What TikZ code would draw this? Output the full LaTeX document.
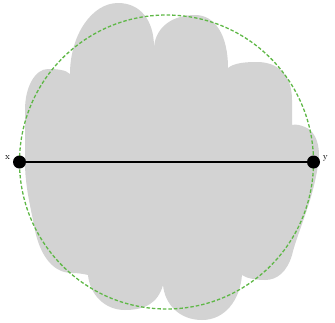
\documentclass[tikz,border=0pt]{standalone}
\usetikzlibrary{positioning,backgrounds}
\definecolor{nube}{HTML}{D3D3D3}
\definecolor{verde}{HTML}{5FB847}

\begin{document}
\begin{tikzpicture}[x=1pt, y=-1pt, font=\small,
      pto/.style={circle, fill=black, inner sep=0pt, minimum size=13pt},
      lbl/.style={inner sep=1pt}]
    \useasboundingbox (0,0) rectangle (335,322);
    \node[pto] (px) at (19.5,162) {};
    \node[pto] (py) at (313.5,162) {};
    \node[lbl, left=1.5pt of px, yshift=4pt] (lx) {x};
    \node[lbl, right=1.5pt of py, yshift=4pt] (ly) {y};
    \path (px) -- coordinate (c) (py);
    \draw[line width=1.8pt] (px) -- (py);
    \begin{scope}[on background layer]
    % mancha gris
    \fill[nube] (25,162) -- (25,110)
      .. controls (25,87) and (35,69) .. (48,69)
      .. controls (58,69) and (66,70) .. (70,74)
      .. controls (70,35) and (92,3) .. (118,3)
      .. controls (140,3) and (154,20) .. (154,47)
      .. controls (156,25) and (175,15) .. (195,15)
      .. controls (215,15) and (228,35) .. (228,68)
      .. controls (234,63) and (245,62) .. (257,62)
      .. controls (278,62) and (292,75) .. (292,100) -- (292,125)
      .. controls (296,124) and (300,125) .. (305,127)
      .. controls (313,130) and (319,140) .. (319,155)
      .. controls (316,195) and (298,230) .. (292,255)
      .. controls (287,272) and (277,280) .. (265,280)
      .. controls (255,280) and (246,278) .. (242,275)
      .. controls (240,300) and (225,320) .. (202,320)
      .. controls (180,320) and (165,305) .. (163,285)
      .. controls (158,303) and (145,310) .. (125,310)
      .. controls (105,310) and (90,295) .. (88,275)
      .. controls (84,274) and (78,273) .. (72,273)
      .. controls (50,273) and (38,250) .. (34,225)
      .. controls (30,205) and (25,185) .. (25,162) -- cycle;
    \draw[verde, line width=1.3pt, dash pattern=on 3.5pt off 2pt]
      (c) circle[radius=147];
    \end{scope}
  \end{tikzpicture}
\end{document}
